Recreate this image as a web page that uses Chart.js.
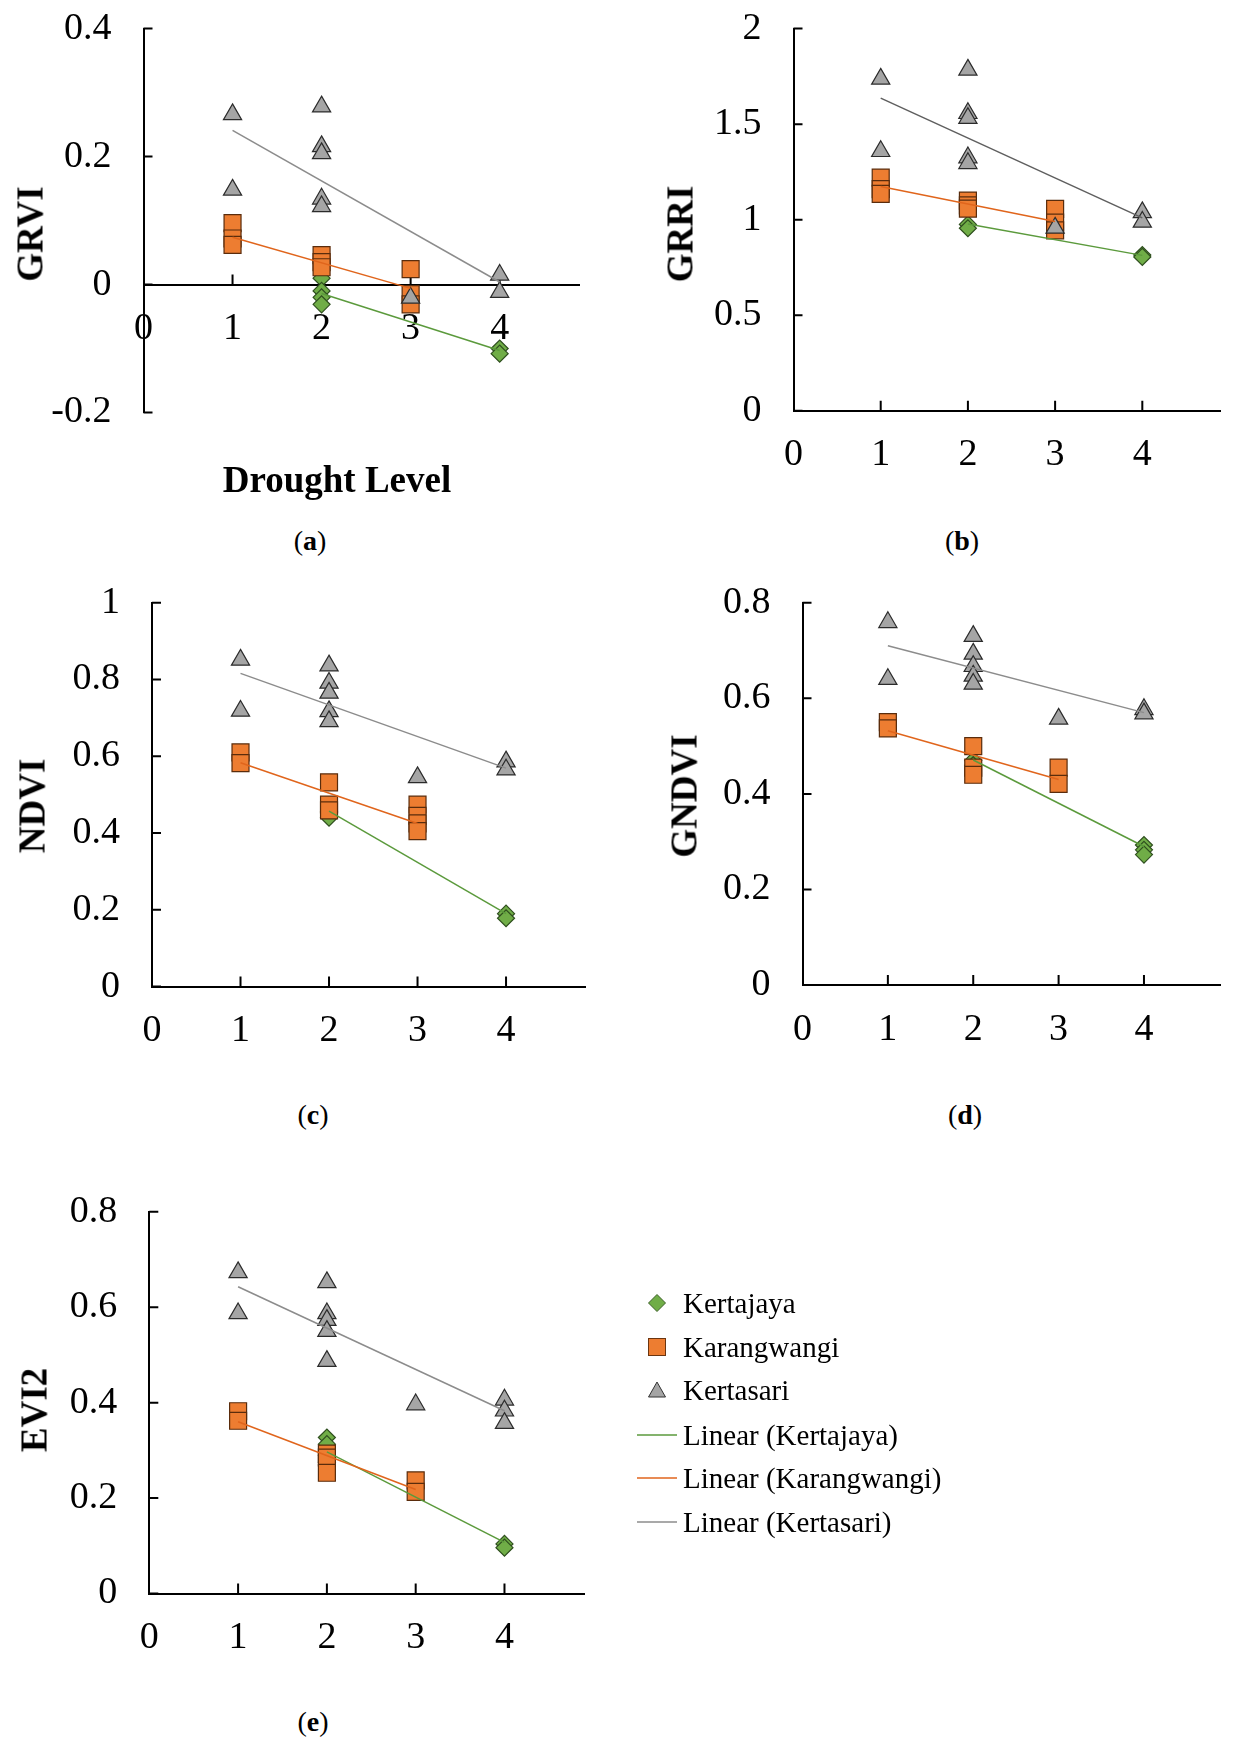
<!DOCTYPE html>
<html>
<head>
<meta charset="utf-8">
<script src="https://cdn.jsdelivr.net/npm/chart.js@4.4.0/dist/chart.umd.min.js"></script>
<style>
  body { margin: 0; width: 1234px; height: 1740px; position: relative; background: #fff; overflow: hidden;
         font-family: 'Liberation Serif', 'Times New Roman', serif; color: #000; }
  canvas { position: absolute; }
  .ytitle { position: absolute; font-weight: bold; font-size: 37px; line-height: 1; white-space: nowrap;
            transform: translate(-50%, -50%) rotate(-90deg); }
  .xtitle { position: absolute; font-weight: bold; font-size: 37px; line-height: 1; white-space: nowrap;
            transform: translate(-50%, -50%); }
  .cap { position: absolute; font-size: 28px; line-height: 1; transform: translate(-50%, -50%); }
  .cap b { font-weight: bold; }
  .leg { position: absolute; left: 683px; font-size: 29px; line-height: 1; white-space: nowrap; transform: translateY(-50%); }
  #legsym { position: absolute; left: 0; top: 0; }
</style>
</head>
<body>
<canvas id="cA" width="600" height="470" style="left:0;top:0"></canvas>
<canvas id="cB" width="614" height="480" style="left:620px;top:0"></canvas>
<canvas id="cC" width="600" height="480" style="left:0;top:570px"></canvas>
<canvas id="cD" width="614" height="480" style="left:620px;top:570px"></canvas>
<canvas id="cE" width="600" height="500" style="left:0;top:1170px"></canvas>

<div class="ytitle" style="left:30px;top:234px">GRVI</div>
<div class="ytitle" style="left:680px;top:234px">GRRI</div>
<div class="ytitle" style="left:32px;top:806px">NDVI</div>
<div class="ytitle" style="left:684px;top:796px">GNDVI</div>
<div class="ytitle" style="left:34px;top:1410px">EVI2</div>
<div class="xtitle" style="left:337px;top:479px">Drought Level</div>

<div class="cap" style="left:310px;top:541px">(<b>a</b>)</div>
<div class="cap" style="left:962px;top:541px">(<b>b</b>)</div>
<div class="cap" style="left:313px;top:1115px">(<b>c</b>)</div>
<div class="cap" style="left:965px;top:1115px">(<b>d</b>)</div>
<div class="cap" style="left:313px;top:1722px">(<b>e</b>)</div>

<svg id="legsym" width="1234" height="1740">
  <polygon points="657,1294.5 665.5,1303 657,1311.5 648.5,1303" fill="#70AD47" stroke="#3b5f27" stroke-width="1"/>
  <rect x="648.5" y="1338.5" width="17" height="17" fill="#ED7D31" stroke="#6b3510" stroke-width="1"/>
  <polygon points="657,1382 665.5,1397 648.5,1397" fill="#A5A5A5" stroke="#333" stroke-width="1"/>
  <line x1="637" y1="1435" x2="677" y2="1435" stroke="#5b9a3c" stroke-width="1.5"/>
  <line x1="637" y1="1478" x2="677" y2="1478" stroke="#e0651c" stroke-width="1.5"/>
  <line x1="637" y1="1522" x2="677" y2="1522" stroke="#8c8c8c" stroke-width="1.5"/>
</svg>
<div class="leg" style="top:1303px">Kertajaya</div>
<div class="leg" style="top:1347px">Karangwangi</div>
<div class="leg" style="top:1390px">Kertasari</div>
<div class="leg" style="top:1435px">Linear (Kertajaya)</div>
<div class="leg" style="top:1478px">Linear (Karangwangi)</div>
<div class="leg" style="top:1522px">Linear (Kertasari)</div>

<script>
// drought level ticks (shared)
const xTicks = [0, 1, 2, 3, 4];

// (a) GRVI
const grviTicks = [-0.2, 0, 0.2, 0.4];
const grviKertajaya = [[2, 0.010], [2, -0.010], [2, -0.020], [2, -0.031], [4, -0.100], [4, -0.108]];
const grviKarangwangi = [[1, 0.096], [1, 0.072], [1, 0.062], [2, 0.046], [2, 0.035], [2, 0.027], [3, 0.024], [3, -0.015], [3, -0.031]];
const grviKertasari = [[1, 0.266], [1, 0.148], [2, 0.278], [2, 0.216], [2, 0.205], [2, 0.134], [2, 0.122], [3, -0.021], [4, 0.015], [4, -0.012]];
const grviTrendKertajaya = [[2, -0.014], [4, -0.103]];
const grviTrendKarangwangi = [[1, 0.074], [3, -0.006]];
const grviTrendKertasari = [[1, 0.241], [4, 0.004]];

// (b) GRRI
const grriTicks = [0, 0.5, 1, 1.5, 2];
const grriKertajaya = [[2, 0.975], [2, 0.955], [4, 0.815], [4, 0.805]];
const grriKarangwangi = [[1, 1.22], [1, 1.16], [1, 1.135], [2, 1.10], [2, 1.075], [2, 1.058], [3, 1.056], [3, 0.985], [3, 0.944]];
const grriKertasari = [[1, 1.737], [1, 1.358], [2, 1.784], [2, 1.557], [2, 1.531], [2, 1.325], [2, 1.295], [3, 0.957], [4, 1.038], [4, 0.988]];
const grriTrendKertajaya = [[2, 0.977], [4, 0.813]];
const grriTrendKarangwangi = [[1, 1.173], [3, 0.99]];
const grriTrendKertasari = [[1, 1.636], [4, 1.009]];

// (c) NDVI
const ndviTicks = [0, 0.2, 0.4, 0.6, 0.8, 1];
const ndviKertajaya = [[2, 0.455], [2, 0.44], [4, 0.19], [4, 0.178]];
const ndviKarangwangi = [[1, 0.61], [1, 0.582], [2, 0.532], [2, 0.474], [2, 0.459], [3, 0.474], [3, 0.445], [3, 0.425], [3, 0.405]];
const ndviKertasari = [[1, 0.851], [1, 0.718], [2, 0.836], [2, 0.791], [2, 0.765], [2, 0.717], [2, 0.691], [3, 0.545], [4, 0.586], [4, 0.565]];
const ndviTrendKertajaya = [[2, 0.457], [4, 0.19]];
const ndviTrendKarangwangi = [[1, 0.583], [3, 0.425]];
const ndviTrendKertasari = [[1, 0.816], [4, 0.569]];

// (d) GNDVI
const gndviTicks = [0, 0.2, 0.4, 0.6, 0.8];
const gndviKertajaya = [[2, 0.47], [2, 0.46], [4, 0.293], [4, 0.283], [4, 0.273]];
const gndviKarangwangi = [[1, 0.55], [1, 0.537], [2, 0.50], [2, 0.455], [2, 0.44], [3, 0.455], [3, 0.421]];
const gndviKertasari = [[1, 0.759], [1, 0.640], [2, 0.730], [2, 0.693], [2, 0.667], [2, 0.647], [2, 0.630], [3, 0.557], [4, 0.577], [4, 0.568]];
const gndviTrendKertajaya = [[2, 0.471], [4, 0.29]];
const gndviTrendKarangwangi = [[1, 0.532], [3, 0.43]];
const gndviTrendKertasari = [[1, 0.71], [4, 0.57]];

// (e) EVI2
const evi2Ticks = [0, 0.2, 0.4, 0.6, 0.8];
const evi2Kertajaya = [[2, 0.327], [2, 0.313], [2, 0.29], [2, 0.275], [4, 0.104], [4, 0.096]];
const evi2Karangwangi = [[1, 0.382], [1, 0.362], [2, 0.293], [2, 0.285], [2, 0.253], [3, 0.237], [3, 0.213]];
const evi2Kertasari = [[1, 0.673], [1, 0.587], [2, 0.652], [2, 0.587], [2, 0.573], [2, 0.55], [2, 0.487], [3, 0.396], [4, 0.406], [4, 0.383], [4, 0.357]];
const evi2TrendKertajaya = [[2, 0.297], [4, 0.107]];
const evi2TrendKarangwangi = [[1, 0.36], [3, 0.218]];
const evi2TrendKertasari = [[1, 0.643], [4, 0.383]];

const FONT = { family: "'Liberation Serif', 'Times New Roman', serif", size: 38 };
const toXY = arr => arr.map(p => ({ x: p[0], y: p[1] }));

// inward tick marks
const innerTicks = {
  id: 'innerTicks',
  beforeDatasetsDraw(chart) {
    const { ctx, chartArea, scales: { x, y } } = chart;
    const y0 = y.getPixelForValue(0);
    ctx.save();
    ctx.strokeStyle = '#000';
    ctx.lineWidth = 2;
    ctx.beginPath();
    x.ticks.forEach(t => {
      if (t.value === 0) return;
      const px = x.getPixelForValue(t.value);
      ctx.moveTo(px, y0);
      ctx.lineTo(px, y0 - 10);
    });
    y.ticks.forEach(t => {
      const py = y.getPixelForValue(t.value);
      ctx.moveTo(chartArea.left, py);
      ctx.lineTo(chartArea.left + 9, py);
    });
    ctx.stroke();
    ctx.restore();
  }
};

function trend(data, color) {
  return { data: toXY(data), showLine: true, borderColor: color, borderWidth: 1.5, pointRadius: 0, clip: false };
}
function marks(data, style, fill, edge, r) {
  return { data: toXY(data), pointStyle: style, pointRadius: r, backgroundColor: fill,
           borderColor: edge, borderWidth: 1.2, showLine: false, clip: false };
}

function makePanel(id, p) {
  return new Chart(document.getElementById(id), {
    type: 'scatter',
    data: {
      datasets: [
        trend(p.trends[2], p.grayLine || '#8c8c8c'),
        trend(p.trends[1], '#e0651c'),
        trend(p.trends[0], '#5b9a3c'),
        marks(p.sets[2], 'triangle', '#A5A5A5', '#2b2b2b', 10.5),
        marks(p.sets[1], 'rect', '#ED7D31', '#5a2c0c', 12),
        marks(p.sets[0], 'rectRot', '#70AD47', '#2f4f1f', 8.5)
      ]
    },
    plugins: [innerTicks],
    options: {
      responsive: false,
      animation: false,
      events: [],
      layout: { padding: { top: p.pt, right: p.pr, bottom: p.pb || 0, left: 0 } },
      plugins: { legend: { display: false }, tooltip: { enabled: false } },
      scales: {
        x: {
          type: 'linear', min: 0, max: 4.9,
          position: p.crossZero ? { y: 0 } : 'bottom',
          afterBuildTicks: ax => { ax.ticks = xTicks.map(v => ({ value: v })); },
          afterFit: ax => { ax.height = p.xh; ax.paddingLeft = 0; ax.paddingRight = 0; },
          grid: { display: false, drawTicks: false },
          border: { color: '#000', width: 2 },
          ticks: { font: FONT, color: '#000', padding: p.xpad, maxRotation: 0, autoSkip: false,
                   callback: v => String(v) }
        },
        y: {
          type: 'linear', min: p.yTicks[0], max: p.yTicks[p.yTicks.length - 1],
          afterBuildTicks: ax => { ax.ticks = p.yTicks.map(v => ({ value: v })); },
          afterFit: ax => { ax.width = p.yw; ax.paddingTop = 0; ax.paddingBottom = 0; },
          grid: { display: false, drawTicks: false },
          border: { color: '#000', width: 2 },
          ticks: { font: FONT, color: '#000', padding: 32, autoSkip: false,
                   callback: v => String(Math.round(v * 10) / 10) }
        }
      }
    }
  });
}

makePanel('cA', {
  yTicks: grviTicks, crossZero: true,
  sets: [grviKertajaya, grviKarangwangi, grviKertasari],
  trends: [grviTrendKertajaya, grviTrendKarangwangi, grviTrendKertasari],
  yw: 143.5, pt: 28.6, pr: 20.2, xh: 0, pb: 57.5, xpad: 22
});
makePanel('cB', {
  yTicks: grriTicks, grayLine: '#5f5f5f',
  sets: [grriKertajaya, grriKarangwangi, grriKertasari],
  trends: [grriTrendKertajaya, grriTrendKarangwangi, grriTrendKertasari],
  yw: 173.5, pt: 28.6, pr: 2, xh: 69.3, xpad: 22
});
makePanel('cC', {
  yTicks: ndviTicks,
  sets: [ndviKertajaya, ndviKarangwangi, ndviKertasari],
  trends: [ndviTrendKertajaya, ndviTrendKarangwangi, ndviTrendKertasari],
  yw: 152, pt: 32.7, pr: 14.3, xh: 63.4, xpad: 22
});
makePanel('cD', {
  yTicks: gndviTicks,
  sets: [gndviKertajaya, gndviKarangwangi, gndviKertasari],
  trends: [gndviTrendKertajaya, gndviTrendKarangwangi, gndviTrendKertasari],
  yw: 182.5, pt: 32.7, pr: 1, xh: 64.9, xpad: 22
});
makePanel('cE', {
  yTicks: evi2Ticks,
  sets: [evi2Kertajaya, evi2Karangwangi, evi2Kertasari],
  trends: [evi2TrendKertajaya, evi2TrendKarangwangi, evi2TrendKertasari],
  yw: 149.3, pt: 41.8, pr: 15.6, xh: 76.5, xpad: 22
});
</script>
</body>
</html>
